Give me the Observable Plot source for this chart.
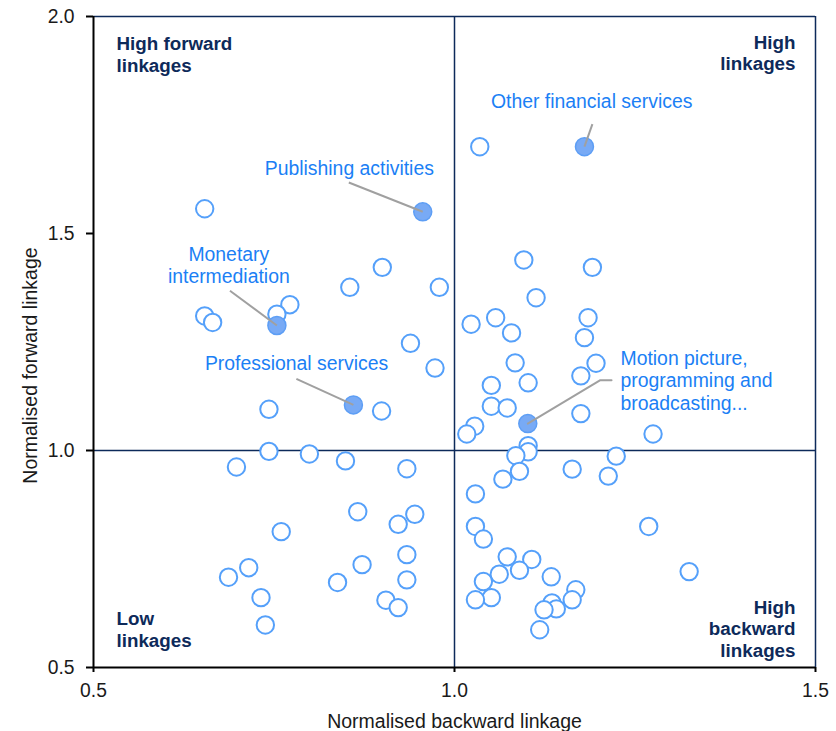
<!DOCTYPE html>
<html>
<head>
<meta charset="utf-8">
<script src="https://cdn.jsdelivr.net/npm/d3@7"></script>
<script src="https://cdn.jsdelivr.net/npm/@observablehq/plot@0.6"></script>
<style>
  body { margin: 0; background: #fff; }
  #chart svg { display: block; }
</style>
</head>
<body>
<div id="chart"></div>
<script>
// ---- Data: unlabelled sectors (normalised backward linkage, normalised forward linkage)
const backward = [
  0.654, 0.979, 0.900, 0.855, 0.772, 0.754, 0.654, 0.665, 0.939, 0.973,
  0.743, 0.899, 0.698, 0.743, 0.799, 0.849, 0.934, 0.866, 0.945, 0.922,
  0.760, 0.934, 0.872, 0.715, 0.687, 0.838, 0.934, 0.732, 0.905, 0.922,
  0.738,
  1.035, 1.096, 1.191, 1.113, 1.023, 1.057, 1.185, 1.079, 1.180, 1.084,
  1.196, 1.175, 1.051, 1.102, 1.051, 1.073, 1.175, 1.028, 1.017, 1.275,
  1.102, 1.102, 1.085, 1.224, 1.163, 1.090, 1.067, 1.213, 1.029, 1.029,
  1.040, 1.269, 1.325, 1.073, 1.107, 1.090, 1.062, 1.040, 1.134, 1.051,
  1.029, 1.168, 1.163, 1.135, 1.141, 1.124, 1.118
];
const forward = [
  1.557, 1.376, 1.422, 1.376, 1.336, 1.314, 1.310, 1.295, 1.247, 1.190,
  1.095, 1.091, 0.962, 0.998, 0.992, 0.976, 0.958, 0.859, 0.853, 0.830,
  0.813, 0.760, 0.737, 0.730, 0.708, 0.696, 0.702, 0.661, 0.655, 0.638,
  0.598,
  1.700, 1.439, 1.422, 1.352, 1.291, 1.306, 1.306, 1.271, 1.260, 1.202,
  1.201, 1.172, 1.150, 1.156, 1.102, 1.098, 1.085, 1.056, 1.038, 1.038,
  1.011, 0.997, 0.988, 0.987, 0.957, 0.952, 0.934, 0.941, 0.900, 0.825,
  0.796, 0.825, 0.721, 0.755, 0.749, 0.724, 0.715, 0.698, 0.709, 0.661,
  0.656, 0.679, 0.656, 0.649, 0.635, 0.633, 0.587
];

// ---- Data: highlighted sectors
const hlNames = [
  "Other financial services",
  "Publishing activities",
  "Monetary\nintermediation",
  "Professional services",
  "Motion picture,\nprogramming and\nbroadcasting..."
];
const hlBackward = [1.180, 0.956, 0.754, 0.860, 1.1015];
const hlForward  = [1.700, 1.550, 1.288, 1.105, 1.062];

// annotation label anchors (data units) and leader-line starts (data units)
const annBackward = [1.190, 0.8543, 0.6874, 0.7812, 1.2299];
const annForward  = [1.789, 1.6353, 1.3857, 1.1853, 1.0938];
const leadBackward = [1.191, 0.8536, 0.689, 0.781, 1.2175];
const leadForward  = [1.752, 1.6175, 1.368, 1.165, 1.162];
const motionElbowBackward = 1.202;

// ---- Axes / labels
const xTicks = [0.5, 1.0, 1.5];
const yTicks = [0.5, 1.0, 1.5, 2.0];
const xLabel = "Normalised backward linkage";
const yLabel = "Normalised forward linkage";
const quadrantLabels = ["High forward\nlinkages", "High\nlinkages", "Low\nlinkages", "High\nbackward\nlinkages"];

// ---- Build tables
const open = backward.map((b, i) => ({b, f: forward[i]}));
const hl = hlNames.map((n, i) => ({name: n, b: hlBackward[i], f: hlForward[i], ab: annBackward[i], af: annForward[i], lb: leadBackward[i], lf: leadForward[i]}));
const straight = hl.slice(0, 4);
const motion = hl[4];
const motionPath = [
  {b: motion.lb, f: motion.lf},
  {b: motionElbowBackward, f: motion.lf},
  {b: motion.b, f: motion.f}
];

const navy = "#0d2a5a";
const dotBlue = "#55a0fa";
const textBlue = "#1b7ff5";
const font = "'Liberation Sans', Arial, Helvetica, sans-serif";

const chart = Plot.plot({
  width: 836,
  height: 731,
  marginLeft: 93,
  marginRight: 21,
  marginTop: 16,
  marginBottom: 64,
  style: {fontFamily: font, fontSize: "19px", background: "#fff", color: "#1a1a1a", overflow: "visible"},
  x: {domain: [0.5, 1.5]},
  y: {domain: [0.5, 2.0]},
  marks: [
    Plot.ruleY([2.0], {stroke: navy, strokeWidth: 1.5}),
    Plot.ruleX([1.5], {stroke: navy, strokeWidth: 1.5}),
    Plot.ruleX([1.0], {stroke: navy, strokeWidth: 1.5}),
    Plot.ruleY([1.0], {stroke: navy, strokeWidth: 1.5}),
    Plot.axisX({ticks: xTicks, tickFormat: d3.format(".1f"), tickSize: 5, tickPadding: 11, label: null, stroke: "#000", strokeWidth: 2, fontSize: 19.3, fill: "#1a1a1a"}),
    Plot.axisY({ticks: yTicks, tickFormat: d3.format(".1f"), tickSize: 7, tickPadding: 12, label: null, stroke: "#000", strokeWidth: 2, fontSize: 19.3, fill: "#1a1a1a"}),
    Plot.ruleX([0.5], {stroke: "#000", strokeWidth: 2}),
    Plot.ruleY([0.5], {stroke: "#000", strokeWidth: 2}),
    Plot.dot(open, {x: "b", y: "f", r: 8.7, stroke: dotBlue, strokeWidth: 2, fill: "#fff"}),
    Plot.dot(hl, {x: "b", y: "f", r: 9, fill: "#78aaf5", stroke: "#5d9ef5", strokeWidth: 1.5}),
    Plot.link(straight, {x1: "lb", y1: "lf", x2: "b", y2: "f", stroke: "#a0a0a0", strokeWidth: 2}),
    Plot.line(motionPath, {x: "b", y: "f", stroke: "#a0a0a0", strokeWidth: 2}),
    Plot.text(straight, {x: "ab", y: "af", text: "name", textAnchor: "middle", lineAnchor: "bottom", lineHeight: 1.13, fontSize: 19.4, fill: textBlue}),
    Plot.text([motion], {x: "ab", y: "af", text: "name", textAnchor: "start", lineAnchor: "bottom", lineHeight: 1.16, fontSize: 19.4, fill: textBlue}),
    Plot.text([quadrantLabels[0]], {text: d => d, frameAnchor: "top-left", textAnchor: "start", lineAnchor: "top", lineHeight: 1.15, dx: 23, dy: 18.6, fontSize: 18.8, fontWeight: "bold", fill: navy}),
    Plot.text([quadrantLabels[1]], {text: d => d, frameAnchor: "top-right", textAnchor: "end", lineAnchor: "top", lineHeight: 1.15, dx: -20, dy: 16.9, fontSize: 18.8, fontWeight: "bold", fill: navy}),
    Plot.text([quadrantLabels[2]], {text: d => d, frameAnchor: "bottom-left", textAnchor: "start", lineAnchor: "bottom", lineHeight: 1.12, dx: 23, dy: -21, fontSize: 18.8, fontWeight: "bold", fill: navy}),
    Plot.text([quadrantLabels[3]], {text: d => d, frameAnchor: "bottom-right", textAnchor: "end", lineAnchor: "bottom", lineHeight: 1.14, dx: -20, dy: -11, fontSize: 18.8, fontWeight: "bold", fill: navy}),
    Plot.text([xLabel], {text: d => d, frameAnchor: "bottom", textAnchor: "middle", lineAnchor: "middle", dy: 54, fontSize: 19.5, fill: "#1a1a1a"}),
    Plot.text([yLabel], {text: d => d, frameAnchor: "left", textAnchor: "middle", lineAnchor: "middle", rotate: -90, dx: -63, dy: 23.5, fontSize: 19.5, fill: "#1a1a1a"})
  ]
});
document.getElementById("chart").appendChild(chart);
</script>
</body>
</html>
